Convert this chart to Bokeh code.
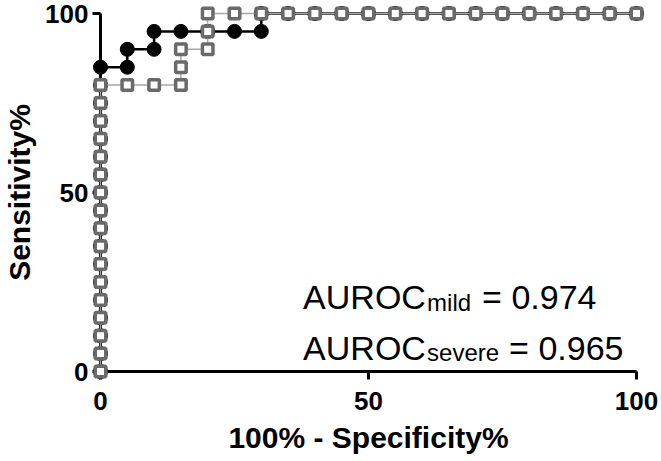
from bokeh.plotting import figure
from bokeh.models import Range1d, Label, FixedTicker
from bokeh.embed import file_html
from bokeh.resources import INLINE

# ROC data (100% - Specificity%, Sensitivity%)
mild_fpr = [0, 0, 0, 0, 0, 0, 0, 0, 0, 0, 0, 0, 0, 0, 0, 0, 0, 0,
            5, 5, 10, 10, 15, 20, 25, 30, 30,
            35, 40, 45, 50, 55, 60, 65, 70, 75, 80, 85, 90, 95, 100]
mild_tpr = [0, 5, 10, 15, 20, 25, 30, 35, 40, 45, 50, 55, 60, 65, 70, 75, 80, 85,
            85, 90, 90, 95, 95, 95, 95, 95, 100,
            100, 100, 100, 100, 100, 100, 100, 100, 100, 100, 100, 100, 100, 100]

severe_fpr = [0, 0, 0, 0, 0, 0, 0, 0, 0, 0, 0, 0, 0, 0, 0, 0, 0,
              5, 10, 15, 15, 15, 20, 20, 20,
              25, 30, 35, 40, 45, 50, 55, 60, 65, 70, 75, 80, 85, 90, 95, 100]
severe_tpr = [0, 5, 10, 15, 20, 25, 30, 35, 40, 45, 50, 55, 60, 65, 70, 75, 80,
              80, 80, 80, 85, 90, 90, 95, 100,
              100, 100, 100, 100, 100, 100, 100, 100, 100, 100, 100, 100, 100, 100, 100, 100]

ticks = [0, 50, 100]
x_label = "100% - Specificity%"
y_label = "Sensitivity%"
auroc_mild = "0.974"
auroc_severe = "0.965"

FONT = "Liberation Sans"

p = figure(width=661, height=461, output_backend="svg", toolbar_location=None,
           x_range=Range1d(0, 100), y_range=Range1d(0, 100),
           min_border_left=99, min_border_right=25, min_border_top=13,
           min_border_bottom=90)
p.outline_line_color = None
p.grid.visible = False
p.background_fill_color = "white"
p.border_fill_color = "white"

for ax in (p.xaxis[0], p.yaxis[0]):
    ax.ticker = FixedTicker(ticks=ticks)
    ax.axis_line_width = 3
    ax.axis_line_color = "black"
    ax.major_tick_line_width = 3
    ax.major_tick_line_color = "black"
    ax.major_tick_out = 8
    ax.major_tick_in = 0
    ax.minor_tick_out = 0
    ax.minor_tick_in = 0
    ax.major_label_text_font = FONT
    ax.major_label_text_font_style = "bold"
    ax.major_label_text_font_size = "26px"
    ax.major_label_text_color = "black"
    ax.axis_label_text_font = FONT
    ax.axis_label_text_font_style = "bold"
    ax.axis_label_text_font_size = "30px"
    ax.axis_label_text_color = "black"

p.xaxis[0].axis_label = x_label
p.yaxis[0].axis_label = y_label
p.xaxis[0].major_label_standoff = 12
p.xaxis[0].axis_label_standoff = 8
p.yaxis[0].major_label_standoff = 4
p.yaxis[0].axis_label_standoff = 6

p.line(mild_fpr, mild_tpr, line_color="black", line_width=2.5, level="overlay")
p.scatter(mild_fpr, mild_tpr, marker="circle", size=14, fill_color="black",
          line_color="black", level="overlay")
p.line(severe_fpr, severe_tpr, line_color="#a8a8a8", line_width=1.5, level="overlay")
p.scatter(severe_fpr, severe_tpr, marker="square", size=10.5, fill_color="white",
          line_color="#6a6a6a", line_width=3.5, level="overlay")

def add_auroc(y, sub, val, sub_width):
    common = dict(x=37.8, y=y, text_font=FONT, text_color="black",
                  text_baseline="alphabetic", text_align="left")
    p.add_layout(Label(text="AUROC", text_font_size="34px", **common))
    p.add_layout(Label(text=sub, text_font_size="24px", x_offset=124, y_offset=-5, **common))
    p.add_layout(Label(text="= " + val, text_font_size="34px", x_offset=124 + sub_width + 10, **common))

add_auroc(20.8, "mild", auroc_mild, 45)
add_auroc(6.6, "severe", auroc_severe, 72)

open("out.html", "w").write(file_html(p, INLINE))
